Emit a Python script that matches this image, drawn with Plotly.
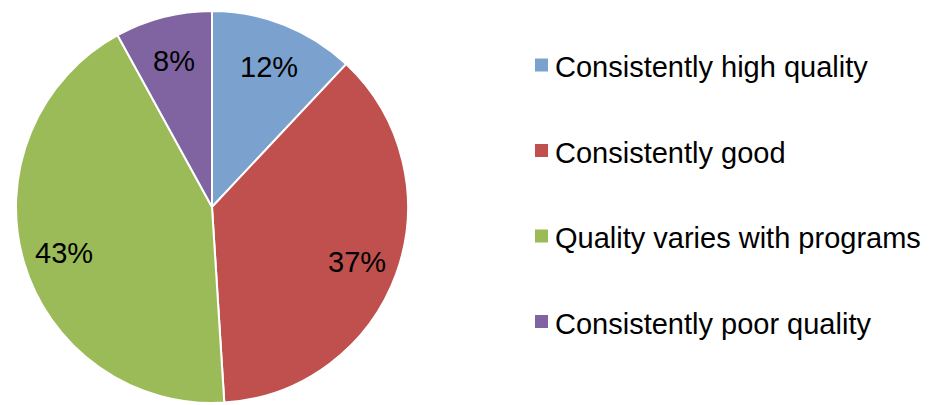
import math
import plotly.graph_objects as go

# Survey responses: perceived quality of programs
categories = [
    "Consistently high quality",
    "Consistently good",
    "Quality varies with programs",
    "Consistently poor quality",
]
shares = [12, 37, 43, 8]
colors = ["#7BA2CF", "#C0504D", "#9BBB59", "#8064A2"]

W, H = 929, 405
FONT = "Liberation Sans, Arial, sans-serif"

# Pie geometry (pixels)
cx, cy, R = 212, 207, 196

fig = go.Figure(
    go.Pie(
        labels=categories,
        values=shares,
        sort=False,
        direction="clockwise",
        rotation=0,
        marker=dict(colors=colors, line=dict(color="white", width=2)),
        textinfo="none",
        hoverinfo="label+percent",
        showlegend=False,
        domain=dict(x=[(cx - R) / W, (cx + R) / W], y=[1 - (cy + R) / H, 1 - (cy - R) / H]),
    )
)

annotations = []
shapes = []

# Percentage labels placed along each slice's mid-angle
total = sum(shares)
cum = 0
for v in shares:
    mid = (cum + v / 2) / total * 2 * math.pi
    cum += v
    r = 0.785 * R
    px = cx + r * math.sin(mid)
    py = cy - r * math.cos(mid) + 3
    annotations.append(
        dict(
            x=px / W, y=1 - py / H, xref="paper", yref="paper",
            text=f"{v}%", showarrow=False, xanchor="center", yanchor="middle",
            font=dict(family=FONT, size=29, color="black"),
        )
    )

# Legend: colour swatch + label per category
leg_x, leg_y0, leg_dy, sw = 535, 65, 85.5, 13
for i, (name, col) in enumerate(zip(categories, colors)):
    yc = leg_y0 + i * leg_dy
    shapes.append(
        dict(
            type="rect", xref="paper", yref="paper",
            x0=leg_x / W, x1=(leg_x + sw) / W,
            y0=1 - (yc + sw / 2) / H, y1=1 - (yc - sw / 2) / H,
            fillcolor=col, line=dict(width=0),
        )
    )
    annotations.append(
        dict(
            x=(leg_x + sw + 5) / W, y=1 - (yc + 2) / H, xref="paper", yref="paper",
            text=name, showarrow=False, xanchor="left", yanchor="middle",
            font=dict(family=FONT, size=29, color="black"),
        )
    )

fig.update_layout(
    width=W, height=H,
    margin=dict(l=0, r=0, t=0, b=0),
    paper_bgcolor="white", plot_bgcolor="white",
    annotations=annotations, shapes=shapes,
)

fig.write_html("out.html")
